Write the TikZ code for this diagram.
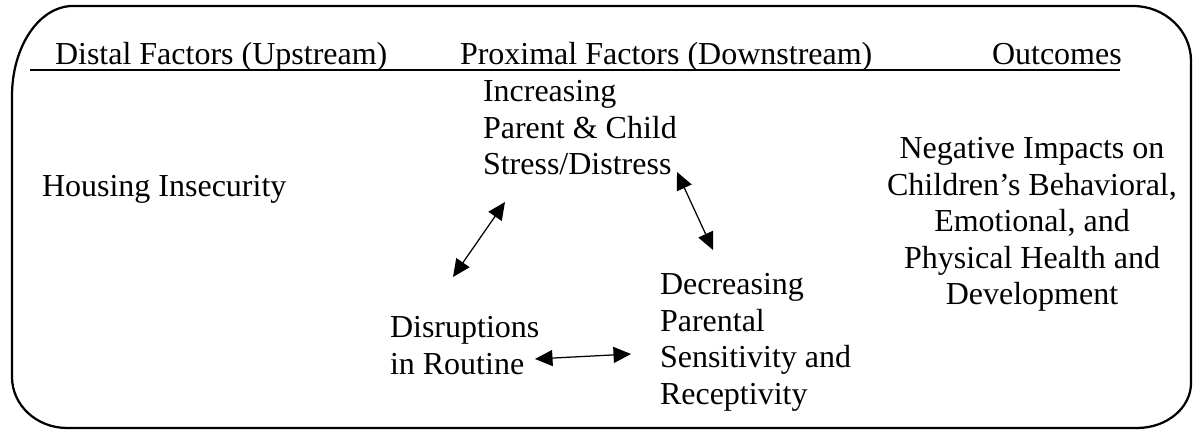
\documentclass[tikz,border=0pt]{standalone}
\usepackage{fontspec}
\setmainfont{Liberation Serif}
\usetikzlibrary{arrows.meta}
\begin{document}
\begin{tikzpicture}[x=0.4pt,y=-0.4pt,
  lbl/.style={inner sep=0pt,outer sep=0pt,anchor=base west,font=\fontsize{12.8pt}{14.6pt}\selectfont},
  frame/.style={line width=0.9pt},
  uline/.style={line width=0.7pt},
  link/.style={line width=0.5pt,{Triangle[length=7pt,width=6.4pt]}-{Triangle[length=7pt,width=6.4pt]}}]
\useasboundingbox (0,0) rectangle (1193,430);
% frame with elliptical corners
\draw[frame] (73,6) -- (1133,6)
  .. controls (1165.0,6) and (1191,30.6) .. (1191,61)
  -- (1191,383)
  .. controls (1191,407.9) and (1166.8,428) .. (1137,428)
  -- (67,428)
  .. controls (36.6,428) and (12,405.2) .. (12,377)
  -- (12,96)
  .. controls (12,46.3) and (39.3,6) .. (73,6) -- cycle;
% headers
\node[lbl] (distal) at (55,65) {Distal Factors (Upstream)};
\node[lbl] (proximal) at (460,65) {Proximal Factors (Downstream)};
\node[lbl] (outcomes) at (992,65) {Outcomes};
\coordinate (ulA) at (30,70);
\coordinate (ulB) at (1120,70);
\draw[uline] (ulA) -- (ulB);
% content
\node[lbl] (housing) at (42,197) {Housing Insecurity};
\node[lbl] (stress) at (483,102) {\begin{tabular}[t]{@{}l@{}}Increasing\\Parent \& Child\\Stress/Distress\end{tabular}};
\node[lbl] (routine) at (390,338) {\begin{tabular}[t]{@{}l@{}}Disruptions\\in Routine\end{tabular}};
\node[lbl] (sensitivity) at (660,295) {\begin{tabular}[t]{@{}l@{}}Decreasing\\Parental\\Sensitivity and\\Receptivity\end{tabular}};
\node[lbl,anchor=base] (impacts) at (1032,159) {\begin{tabular}[t]{@{}c@{}}Negative Impacts on\\Children’s Behavioral,\\Emotional, and\\Physical Health and\\Development\end{tabular}};
% arrows
\coordinate (a1r) at (453,277);
\coordinate (a1s) at (505,202);
\coordinate (a2s) at (677,172);
\coordinate (a2d) at (713,250);
\coordinate (a3r) at (535,359);
\coordinate (a3d) at (631,354);
\draw[link] (a1r) -- (a1s);
\draw[link] (a2s) -- (a2d);
\draw[link] (a3r) -- (a3d);
\end{tikzpicture}
\end{document}
